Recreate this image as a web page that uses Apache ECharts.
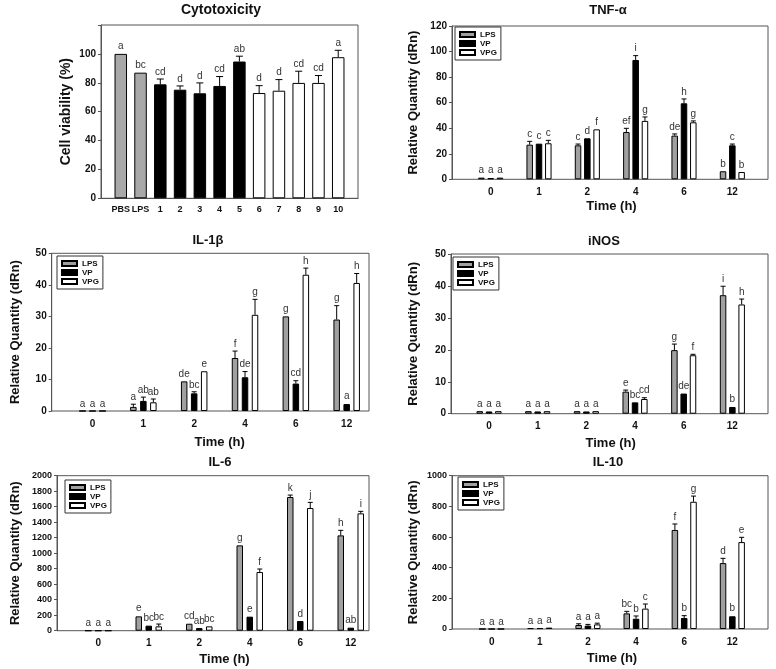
<!DOCTYPE html>
<html><head><meta charset="utf-8">
<script src="https://cdn.jsdelivr.net/npm/echarts@6/dist/echarts.min.js"></script>
<style>html,body{margin:0;padding:0;background:#fff}#c{width:776px;height:669px}</style>
</head><body><div id="c"></div>
<script>
// ================= DATA =================
const cytoCategories = ['PBS','LPS','1','2','3','4','5','6','7','8','9','10'];
const cytoGroups = ['Control','Control','VP','VP','VP','VP','VP','VPG','VPG','VPG','VPG','VPG'];
const cytoValues = [100, 87.0, 78.9, 75.2, 72.7, 77.8, 94.7, 72.9, 74.5, 79.9, 79.9, 97.7];
const cytoErrors = [0.3, 0.5, 3.7, 2.6, 7.2, 6.5, 3.7, 5.1, 7.7, 8.1, 5.1, 4.8];
const cytoLetters = ['a','bc','cd','d','d','cd','ab','d','d','cd','cd','a'];

const timeCategories = ['0','1','2','4','6','12'];
const seriesNames = ['LPS','VP','VPG'];

// TNF-α
const tnfLPS = [1.3, 27.1, 26.6, 37.0, 34.2, 6.3];
const tnfVP  = [1.0, 27.9, 32.1, 93.4, 59.5, 26.6];
const tnfVPG = [1.3, 28.2, 39.1, 45.7, 44.6, 5.7];
const tnfLPSErr = [0.4, 2.6, 1.0, 2.9, 1.3, 0.2];
const tnfVPErr  = [0.5, 0.3, 0.3, 3.4, 3.4, 1.0];
const tnfVPGErr = [0.3, 2.3, 0.3, 3.1, 1.1, 0.2];
const tnfLPSLetters = ['a','c','c','ef','de','b'];
const tnfVPLetters  = ['a','c','d','i','h','c'];
const tnfVPGLetters = ['a','c','f','g','g','b'];

// IL-1β
const il1LPS = [0, 1.3, 9.4, 16.8, 30.0, 29.0];
const il1VP  = [0, 3.2, 5.6, 10.7, 8.7, 2.2];
const il1VPG = [0, 2.75, 12.6, 30.5, 43.2, 40.6];
const il1LPSErr = [0, 0.85, 0.1, 2.2, 0.1, 4.4];
const il1VPErr  = [0, 1.2, 0.5, 1.8, 0.9, 0.2];
const il1VPGErr = [0, 1.05, 0.1, 4.9, 2.1, 3.0];
const il1LPSLetters = ['a','a','de','f','g','g'];
const il1VPLetters  = ['a','ab','bc','de','cd','a'];
const il1VPGLetters = ['a','ab','e','g','h','h'];

// iNOS
const inosLPS = [0.8, 0.8, 0.8, 6.9, 19.9, 37.1];
const inosVP  = [0.7, 0.7, 0.7, 3.55, 6.3, 2.1];
const inosVPG = [0.8, 0.8, 0.8, 4.6, 18.3, 34.2];
const inosLPSErr = [0.1, 0.1, 0.1, 0.5, 1.9, 2.8];
const inosVPErr  = [0.1, 0.1, 0.1, 0.1, 0.2, 0.1];
const inosVPGErr = [0.1, 0.1, 0.1, 0.4, 0.3, 1.7];
const inosLPSLetters = ['a','a','a','e','g','i'];
const inosVPLetters  = ['a','a','a','bc','de','b'];
const inosVPGLetters = ['a','a','a','cd','f','h'];

// IL-6
const il6LPS = [0, 185, 90, 1101, 1725, 1230];
const il6VP  = [0, 65, 34, 181, 125, 39];
const il6VPG = [0, 56, 56, 757, 1583, 1514];
const il6LPSErr = [0, 9, 3, 5, 25, 65];
const il6VPErr  = [0, 3, 3, 3, 3, 3];
const il6VPGErr = [0, 30, 3, 39, 73, 26];
const il6LPSLetters = ['a','e','cd','g','k','h'];
const il6VPLetters  = ['a','bc','ab','e','d','ab'];
const il6VPGLetters = ['a','bc','bc','f','j','i'];

// IL-10
const il10LPS = [0, 6, 26, 102, 646, 430];
const il10VP  = [0, 6, 22, 67, 72, 83];
const il10VPG = [0, 9, 30, 133, 830, 567];
const il10LPSErr = [0, 1, 8, 13, 39, 31];
const il10VPErr  = [0, 1, 8, 18, 15, 4];
const il10VPGErr = [0, 1, 8, 30, 37, 31];
const il10LPSLetters = ['a','a','a','bc','f','d'];
const il10VPLetters  = ['a','a','a','b','b','b'];
const il10VPGLetters = ['a','a','a','c','g','e'];

// axis ranges / ticks
const cytoYMax = 120, cytoYStep = 20, cytoYLabelMax = 100;
const tnfYMax = 120, tnfYStep = 20;
const il1YMax = 50, il1YStep = 10;
const inosYMax = 50, inosYStep = 10;
const il6YMax = 2000, il6YStep = 200;
const il10YMax = 1000, il10YStep = 200;

// ================= STYLE =================
const FONT = '"Liberation Sans", Arial, sans-serif';
const groupColors = { Control: '#a8a8a8', LPS: '#a0a0a0', VP: '#000000', VPG: '#ffffff' };
const frameColor = '#555';
const letterColor = '#333';

const panels = [
  { title:'TNF-α', tx:608, ty:10, frame:{left:452, top:26, width:316, height:153.3}, data:{left:466.5, width:290},
    yMax:tnfYMax, yStep:tnfYStep, yFont:10, spacing:9.3, legend:{left:455, top:27}, yNameX:413, xNameGap:21,
    vals:[tnfLPS,tnfVP,tnfVPG], errs:[tnfLPSErr,tnfVPErr,tnfVPGErr], letters:[tnfLPSLetters,tnfVPLetters,tnfVPGLetters] },
  { title:'IL-1β', tx:208, ty:240, frame:{left:51.7, top:253.3, width:317.3, height:157.7}, data:{left:67.1, width:305},
    yMax:il1YMax, yStep:il1YStep, yFont:10, spacing:10, legend:{left:57, top:256}, yNameX:15, xNameGap:25,
    vals:[il1LPS,il1VP,il1VPG], errs:[il1LPSErr,il1VPErr,il1VPGErr], letters:[il1LPSLetters,il1VPLetters,il1VPGLetters] },
  { title:'iNOS', tx:604, ty:241, frame:{left:451, top:254, width:317, height:159.7}, data:{left:464.7, width:292},
    yMax:inosYMax, yStep:inosYStep, yFont:10, spacing:9.3, legend:{left:453, top:257}, yNameX:413, xNameGap:23,
    vals:[inosLPS,inosVP,inosVPG], errs:[inosLPSErr,inosVPErr,inosVPGErr], letters:[inosLPSLetters,inosVPLetters,inosVPGLetters] },
  { title:'IL-6', tx:220, ty:462, frame:{left:57, top:475.7, width:312, height:155}, data:{left:73, width:303},
    yMax:il6YMax, yStep:il6YStep, yFont:9, spacing:10, legend:{left:65, top:480}, yNameX:15, xNameGap:22,
    vals:[il6LPS,il6VP,il6VPG], errs:[il6LPSErr,il6VPErr,il6VPGErr], letters:[il6LPSLetters,il6VPLetters,il6VPGLetters] },
  { title:'IL-10', tx:608, ty:462, frame:{left:452, top:475.7, width:316, height:153.3}, data:{left:467.6, width:288.8},
    yMax:il10YMax, yStep:il10YStep, yFont:9, spacing:9.3, legend:{left:458, top:477}, yNameX:413, xNameGap:23,
    vals:[il10LPS,il10VP,il10VPG], errs:[il10LPSErr,il10VPErr,il10VPGErr], letters:[il10LPSLetters,il10VPLetters,il10VPGLetters] }
];

const BAR_W = 6.5;

function errorSeries(xi, yi, values, errs, letters, offset, capW, xShift) {
  const sh = xShift || 0;
  return {
    type: 'custom', xAxisIndex: xi, yAxisIndex: yi, silent: true, z: 5,
    encode: { x: 0, y: 1 },
    data: values.map((v, i) => [i + sh, v, errs[i]]),
    renderItem: function (params, api) {
      const i = api.value(0), v = api.value(1), e = api.value(2);
      const base = api.coord([i, v]);
      const top = api.coord([i, v + e]);
      const x = base[0] + offset;
      const children = [];
      if (base[1] - top[1] >= 0.8) {
        children.push({ type: 'line', shape: { x1: x, y1: base[1], x2: x, y2: top[1] }, style: { stroke: '#000', lineWidth: 1 } });
        children.push({ type: 'line', shape: { x1: x - capW / 2, y1: top[1], x2: x + capW / 2, y2: top[1] }, style: { stroke: '#000', lineWidth: 1 } });
      }
      children.push({ type: 'text', x: x, y: top[1] - 2,
        style: { text: letters[params.dataIndex], align: 'center', verticalAlign: 'bottom', font: '10px ' + FONT, fill: letterColor } });
      return { type: 'group', children: children };
    }
  };
}

const grid = [], xAxis = [], yAxis = [], series = [], legend = [], graphic = [];

// ---- Cytotoxicity panel ----
const cytoPadded = [''].concat(cytoCategories, ['']);
grid.push({ left: 101, top: 25, width: 257, height: 173.3, show: true, borderColor: frameColor, borderWidth: 1, backgroundColor: 'transparent' });
xAxis.push({ type: 'category', gridIndex: 0, data: cytoPadded, boundaryGap: false,
  axisLine: { lineStyle: { color: frameColor } }, axisTick: { show: false },
  axisLabel: { interval: 0, fontSize: 9, fontWeight: 'bold', color: '#111', fontFamily: FONT, margin: 7 } });
yAxis.push({ type: 'value', gridIndex: 0, min: 0, max: cytoYMax, interval: cytoYStep,
  name: 'Cell viability (%)', nameLocation: 'middle', nameGap: 28,
  nameTextStyle: { fontSize: 14, fontWeight: 'bold', color: '#111', fontFamily: FONT },
  axisLine: { show: true, lineStyle: { color: frameColor } }, axisTick: { show: true, length: 3, lineStyle: { color: frameColor } },
  splitLine: { show: false },
  axisLabel: { fontSize: 10, fontWeight: 'bold', color: '#111', fontFamily: FONT, margin: 5,
    formatter: v => (v <= cytoYLabelMax ? String(v) : '') } });
series.push({ type: 'bar', name: 'Cell viability', xAxisIndex: 0, yAxisIndex: 0, barWidth: 12.5,
  data: cytoValues.map((v, i) => ({ value: [i + 1, v], itemStyle: { color: groupColors[cytoGroups[i]], borderColor: '#000', borderWidth: 1 } })) });
series.push(errorSeries(0, 0, cytoValues, cytoErrors, cytoLetters, 0, 7, 1));
graphic.push({ type: 'text', x: 221, y: 10, style: { text: 'Cytotoxicity', align: 'center', verticalAlign: 'middle', font: 'bold 14px ' + FONT, fill: '#111' } });

// ---- Time-course panels ----
panels.forEach(p => {
  const fi = grid.length;      // frame grid index
  const di = fi + 1;           // data grid index
  grid.push({ left: p.frame.left, top: p.frame.top, width: p.frame.width, height: p.frame.height,
    show: true, borderColor: frameColor, borderWidth: 1, backgroundColor: 'transparent' });
  grid.push({ left: p.data.left, top: p.frame.top, width: p.data.width, height: p.frame.height });
  xAxis.push({ type: 'category', gridIndex: fi, data: timeCategories, show: false });
  yAxis.push({ type: 'value', gridIndex: fi, min: 0, max: p.yMax, interval: p.yStep,
    name: 'Relative Quantity (dRn)', nameLocation: 'middle', nameGap: p.frame.left - p.yNameX - 6.5,
    nameTextStyle: { fontSize: 13, fontWeight: 'bold', color: '#111', fontFamily: FONT },
    axisLine: { show: true, lineStyle: { color: frameColor } }, axisTick: { show: true, length: 3, lineStyle: { color: frameColor } },
    splitLine: { show: false },
    axisLabel: { fontSize: p.yFont, fontWeight: 'bold', color: '#111', fontFamily: FONT, margin: 5, formatter: v => String(v) } });
  xAxis.push({ type: 'category', gridIndex: di, data: timeCategories, boundaryGap: true,
    name: 'Time (h)', nameLocation: 'middle', nameGap: p.xNameGap,
    nameTextStyle: { fontSize: 13, fontWeight: 'bold', color: '#111', fontFamily: FONT },
    axisLine: { show: false }, axisTick: { show: false },
    axisLabel: { interval: 0, fontSize: 10, fontWeight: 'bold', color: '#111', fontFamily: FONT, margin: 8 } });
  yAxis.push({ type: 'value', gridIndex: di, min: 0, max: p.yMax, interval: p.yStep, show: false, splitLine: { show: false } });
  const gapPct = ((p.spacing - BAR_W) / BAR_W * 100).toFixed(1) + '%';
  seriesNames.forEach((name, k) => {
    series.push({ type: 'bar', name: name, xAxisIndex: di, yAxisIndex: di, barWidth: BAR_W, barGap: gapPct,
      itemStyle: { color: groupColors[name], borderColor: '#000', borderWidth: 1 },
      data: p.vals[k] });
  });
  seriesNames.forEach((name, k) => {
    series.push(errorSeries(di, di, p.vals[k], p.errs[k], p.letters[k], (k - 1) * p.spacing, 5));
  });
  legend.push({ left: p.legend.left, top: p.legend.top, orient: 'vertical', data: seriesNames, selectedMode: false,
    icon: 'rect', itemWidth: 15, itemHeight: 5, itemGap: 0, padding: [3, 4, 3, 4], borderColor: '#333', borderWidth: 1,
    backgroundColor: '#fff', textStyle: { fontSize: 8, fontWeight: 'bold', color: '#111', fontFamily: FONT, lineHeight: 9 } });
  graphic.push({ type: 'text', x: p.tx, y: p.ty, style: { text: p.title, align: 'center', verticalAlign: 'middle', font: 'bold 13px ' + FONT, fill: '#111' } });
});

const chart = echarts.init(document.getElementById('c'), null, { renderer: 'canvas' });
chart.setOption({
  backgroundColor: '#fff',
  animation: false,
  grid, xAxis, yAxis, series, legend, graphic
});
</script>
</body></html>
